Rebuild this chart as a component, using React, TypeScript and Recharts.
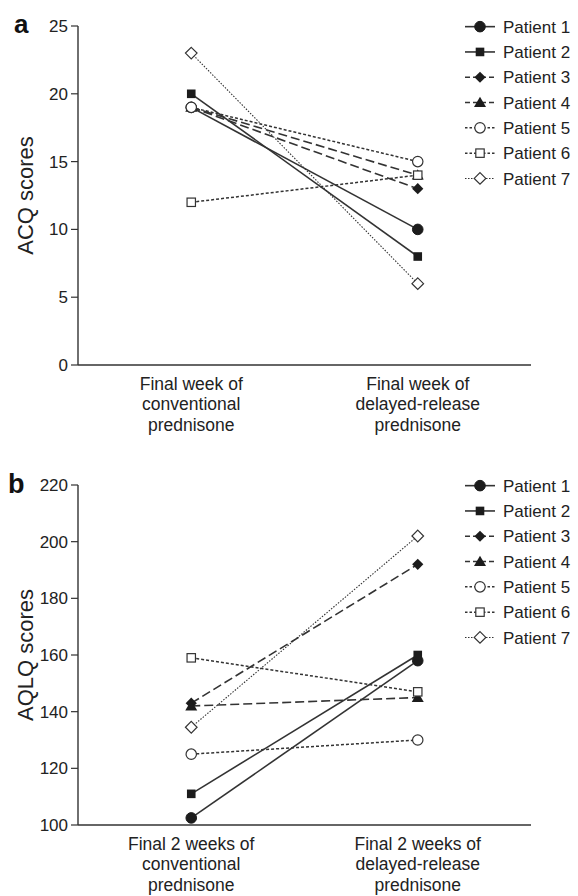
import React from 'react';
import { LineChart, Line, XAxis, YAxis, Legend } from 'recharts';

// ---------- data ----------
const categoriesA = ['Final week of|conventional|prednisone', 'Final week of|delayed-release|prednisone'];
const categoriesB = ['Final 2 weeks of|conventional|prednisone', 'Final 2 weeks of|delayed-release|prednisone'];
const patientNames = ['Patient 1', 'Patient 2', 'Patient 3', 'Patient 4', 'Patient 5', 'Patient 6', 'Patient 7'];

const acqP1 = [19, 10];
const acqP2 = [20, 8];
const acqP3 = [19, 13];
const acqP4 = [19, 14];
const acqP5 = [19, 15];
const acqP6 = [12, 14];
const acqP7 = [23, 6];

const aqlqP1 = [102.5, 158];
const aqlqP2 = [111, 160];
const aqlqP3 = [143, 192];
const aqlqP4 = [142, 145];
const aqlqP5 = [125, 130];
const aqlqP6 = [159, 147];
const aqlqP7 = [134.5, 202];

const ticksA = [0, 5, 10, 15, 20, 25];
const ticksB = [100, 120, 140, 160, 180, 200, 220];

// ---------- styles ----------
const INK = '#333333';
const FILL = '#1c1c1c';
const FONT = '"Liberation Sans", Arial, Helvetica, sans-serif';

type Style = { shape: string; dash?: string; width: number; legendDash?: string };
const styles: Style[] = [
  { shape: 'circle', width: 1.6 },
  { shape: 'square', width: 1.6 },
  { shape: 'diamond', dash: '9 4', width: 1.6, legendDash: '5 3' },
  { shape: 'triangle', dash: '9 4', width: 1.6, legendDash: '5 3' },
  { shape: 'openCircle', dash: '3 2', width: 1.5, legendDash: '2.5 2' },
  { shape: 'openSquare', dash: '3 2', width: 1.5, legendDash: '2.5 2' },
  { shape: 'openDiamond', dash: '1.5 1.5', width: 1.1, legendDash: '1.5 1.5' },
];

function buildRows(cats: string[], series: number[][]) {
  return cats.map((c, i) => {
    const row: Record<string, any> = { cat: c };
    series.forEach((s, k) => {
      row[`p${k + 1}`] = s[i];
    });
    return row;
  });
}

const dataA = buildRows(categoriesA, [acqP1, acqP2, acqP3, acqP4, acqP5, acqP6, acqP7]);
const dataB = buildRows(categoriesB, [aqlqP1, aqlqP2, aqlqP3, aqlqP4, aqlqP5, aqlqP6, aqlqP7]);

function Marker({ cx, cy, shape }: { cx: number; cy: number; shape: string }) {
  if (cx == null || cy == null) return null;
  switch (shape) {
    case 'circle':
      return <circle cx={cx} cy={cy} r={5.3} fill={FILL} stroke={FILL} />;
    case 'square':
      return <rect x={cx - 4.3} y={cy - 4.3} width={8.6} height={8.6} fill={FILL} />;
    case 'diamond':
      return <polygon points={`${cx},${cy - 5.6} ${cx + 5.6},${cy} ${cx},${cy + 5.6} ${cx - 5.6},${cy}`} fill={FILL} />;
    case 'triangle':
      return <polygon points={`${cx},${cy - 5.8} ${cx + 6},${cy + 4.4} ${cx - 6},${cy + 4.4}`} fill={FILL} />;
    case 'openCircle':
      return <circle cx={cx} cy={cy} r={5.2} fill="#fff" stroke={INK} strokeWidth={1.2} />;
    case 'openSquare':
      return <rect x={cx - 4.2} y={cy - 4.2} width={8.4} height={8.4} fill="#fff" stroke={INK} strokeWidth={1.2} />;
    case 'openDiamond':
      return (
        <polygon
          points={`${cx},${cy - 5.8} ${cx + 5.8},${cy} ${cx},${cy + 5.8} ${cx - 5.8},${cy}`}
          fill="#fff"
          stroke={INK}
          strokeWidth={1.2}
        />
      );
    default:
      return null;
  }
}

function XTick(props: any) {
  const { x, y, payload } = props;
  const lines = String(payload.value).split('|');
  return (
    <text x={x} y={y} textAnchor="middle" fontSize={17.5} fill="#222" fontFamily={FONT}>
      {lines.map((l, i) => (
        <tspan key={i} x={x} dy={i === 0 ? 24.5 : 20.5}>
          {l}
        </tspan>
      ))}
    </text>
  );
}

function LegendBox() {
  const rowH = 25.3;
  return (
    <svg width={118} height={rowH * 7 + 4} style={{ display: 'block', overflow: 'visible' }}>
      {patientNames.map((n, i) => {
        const cy = rowH / 2 + i * rowH;
        const st = styles[i];
        return (
          <g key={n}>
            <line
              x1={5}
              x2={35}
              y1={cy}
              y2={cy}
              stroke={INK}
              strokeWidth={st.width}
              strokeDasharray={st.legendDash}
            />
            <Marker cx={20} cy={cy} shape={st.shape} />
            <text x={43} y={cy} dy="0.36em" fontSize={17} fill="#222" fontFamily={FONT}>
              {n}
            </text>
          </g>
        );
      })}
    </svg>
  );
}

function YLabel(text: string) {
  return (props: any) => {
    const vb = props.viewBox;
    const cx = vb.x + 7;
    const cy = vb.y + vb.height / 2;
    return (
      <text
        x={cx}
        y={cy}
        transform={`rotate(-90 ${cx} ${cy})`}
        textAnchor="middle"
        dominantBaseline="central"
        fontSize={22}
        fill="#222"
        fontFamily={FONT}
      >
        {text}
      </text>
    );
  };
}

function Panel({
  data,
  ticks,
  domain,
  height,
  top,
  bottom,
  label,
  legendTop,
}: {
  data: any[];
  ticks: number[];
  domain: [number, number];
  height: number;
  top: number;
  bottom: number;
  label: string;
  legendTop: number;
}) {
  return (
    <LineChart width={578} height={height} data={data} margin={{ top, right: 47, bottom, left: 18 }}>
      <XAxis
        dataKey="cat"
        type="category"
        scale="band"
        height={30}
        axisLine={{ stroke: INK, strokeWidth: 1.4 }}
        tickLine={false}
        tickSize={0}
        tickMargin={0}
        tick={<XTick />}
        interval={0}
      />
      <YAxis
        width={60}
        domain={domain}
        ticks={ticks}
        type="number"
        allowDataOverflow
        axisLine={{ stroke: INK, strokeWidth: 1.4 }}
        tickLine={{ stroke: INK, strokeWidth: 1.2 }}
        tickSize={7}
        tickMargin={3}
        tick={{ fontSize: 17, fill: '#222', fontFamily: FONT }}
        label={{ content: YLabel(label) }}
      />
      <Legend
        layout="vertical"
        align="center"
        verticalAlign="middle"
        wrapperStyle={{ left: 460, top: legendTop, width: 118 }}
        content={() => <LegendBox />}
      />
      {styles.map((st, k) => (
        <Line
          key={k}
          dataKey={`p${k + 1}`}
          name={patientNames[k]}
          stroke={INK}
          strokeWidth={st.width}
          strokeDasharray={st.dash}
          isAnimationActive={false}
          activeDot={false}
          dot={(p: any) => <Marker key={`d-${k}-${p.index}`} cx={p.cx} cy={p.cy} shape={st.shape} />}
        />
      ))}
    </LineChart>
  );
}

export default function App() {
  return (
    <div
      style={{
        position: 'absolute',
        left: 0,
        top: 0,
        width: 578,
        height: 896,
        background: '#fff',
        fontFamily: FONT,
      }}
    >
      <Panel data={dataA} ticks={ticksA} domain={[0, 25]} height={440} top={26} bottom={45} label="ACQ scores" legendTop={13.5} />
      <Panel data={dataB} ticks={ticksB} domain={[100, 220]} height={456} top={45} bottom={41} label="AQLQ scores" legendTop={32.5} />
      <svg width={578} height={896} style={{ position: 'absolute', left: 0, top: 0, pointerEvents: 'none' }}>
        <text x={14} y={33} fontSize={26} fontWeight="bold" fill="#111" fontFamily={FONT}>
          a
        </text>
        <text x={8} y={493} fontSize={27} fontWeight="bold" fill="#111" fontFamily={FONT}>
          b
        </text>
      </svg>
    </div>
  );
}
